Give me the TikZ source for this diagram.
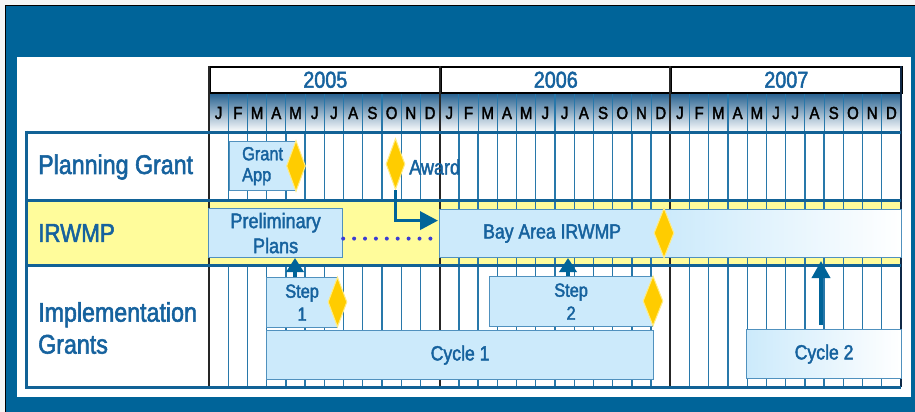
\documentclass[tikz,border=0pt]{standalone}
\usepackage{fontspec}
\setmainfont{Liberation Sans}[FakeStretch=0.86, FakeBold=2]
\usetikzlibrary{arrows.meta,shapes.geometric,calc}
\definecolor{frameblue}{RGB}{0,100,153}
\definecolor{rowline}{RGB}{18,98,150}
\definecolor{gridblue}{RGB}{40,120,170}
\definecolor{boxfill}{RGB}{204,234,251}
\definecolor{boxline}{RGB}{80,145,190}
\definecolor{txtblue}{RGB}{22,98,158}
\definecolor{band}{RGB}{255,252,155}
\definecolor{gold}{RGB}{255,204,0}
\definecolor{goldedge}{RGB}{255,236,130}
\definecolor{dotc}{RGB}{60,60,210}
\definecolor{hdrtop}{RGB}{32,92,140}
\definecolor{darkedge}{RGB}{15,40,70}
\newcommand{\fsz}[2]{\fontsize{#1}{#2}\selectfont}
\tikzset{
  box/.style={draw=boxline, fill=boxfill, line width=1.2pt, text=txtblue, inner sep=0pt, anchor=north west, align=center},
  gbox/.style={draw=boxline, left color=boxfill, right color=white, line width=1.2pt, text=txtblue, inner sep=0pt, anchor=north west, align=center},
  mile/.style={diamond, fill=gold, draw=goldedge, line width=1pt, inner sep=0pt, minimum width=19pt, minimum height=51pt},
  arr/.style={draw=frameblue, line width=3.6pt, -{Triangle[length=14pt,width=17pt]}},
  gridline/.style={draw=gridblue, line width=1.4pt},
  yearline/.style={draw=black!85, line width=1.3pt},
  rowrule/.style={draw=rowline, line width=3pt},
  lbl/.style={text=txtblue, anchor=west, inner sep=0pt, align=left},
}
\begin{document}
\begin{tikzpicture}[x=1pt,y=-1pt]
\useasboundingbox (0,0) rectangle (915,412);
% frame
\fill[white!92!gray] (0,0) rectangle (915,412);
\fill[frameblue] (5,5) rectangle (915,412);
\draw[black, line width=1.3pt] (5.5,412) -- (5.5,5.5) -- (915,5.5);
\fill[white] (17,57) rectangle (911,397);
% IRWMP band
\fill[band] (26,200) rectangle (901,265);
% month grid lines in chart
\foreach \i in {1,...,35}{
  \pgfmathtruncatemacro\m{mod(\i,12)}
  \ifnum\m=0\else
    \draw[gridline] ({209+\i*19.2222},132) -- ({209+\i*19.2222},200);
    \draw[gridline] ({209+\i*19.2222},265) -- ({209+\i*19.2222},387);
    \ifnum\i>12
      \draw[gridline] ({209+\i*19.2222},200) -- ({209+\i*19.2222},265);
    \fi
  \fi
}
% header month row
\shade[top color=hdrtop, bottom color=white] (209,92) rectangle (901,132);
\foreach \i in {1,...,35}{
  \draw[draw=gridblue, line width=1.2pt] ({209+\i*19.2222},92) -- ({209+\i*19.2222},132);
}
\foreach \l [count=\k from 0] in {J,F,M,A,M,J,J,A,S,O,N,D}{
  \foreach \y in {0,1,2}{
    \node[inner sep=0pt, font=\fsz{17.5}{17.5}] (m\y\k) at ({209+(\y*12+\k+0.5)*19.2222},113) {\l};
  }
}
% year boxes
\node[draw=black, line width=1.6pt, fill=white, minimum width=231pt, minimum height=26pt, anchor=north west, inner sep=0pt, text=txtblue, font=\fsz{23}{23}] (y5) at (209,66) {2005};
\node[draw=black, line width=1.6pt, fill=white, minimum width=230pt, minimum height=26pt, anchor=north west, inner sep=0pt, text=txtblue, font=\fsz{23}{23}] (y6) at (440,66) {2006};
\node[draw=black, line width=1.6pt, fill=white, minimum width=231pt, minimum height=26pt, anchor=north west, inner sep=0pt, text=txtblue, font=\fsz{23}{23}] (y7) at (670,66) {2007};
% year lines
\foreach \xx in {209,440,670}{
  \draw[yearline] (\xx,66) -- (\xx,387);
}
\draw[draw=darkedge, line width=1.8pt] (901,66) -- (901,387);
% row rules
\draw[rowrule] (26,132) -- (901,132);
\draw[rowrule] (26,200) -- (901,200);
\draw[rowrule] (26,265) -- (901,265);
\draw[rowrule] (26,387) -- (901,387);
\draw[rowrule] (26,130.5) -- (26,388.5);
% left labels
\node[lbl, font=\fsz{27}{27}] (pg) at (38,167) {Planning Grant};
\node[lbl, font=\fsz{26}{26}] (ir) at (38,233) {IRWMP};
\node[lbl, font=\fsz{27}{32}] (ig) at (38,328) {Implementation\\Grants};
% boxes
\node[box, minimum width=66pt, minimum height=49pt, font=\fsz{19}{21}, align=left] (ga) at (229,141) {Grant\\App};
\node[box, minimum width=134pt, minimum height=49pt, font=\fsz{21}{25}] (pp) at (208,208) {Preliminary\\Plans};
\node[box, minimum width=225pt, minimum height=48pt, font=\fsz{20.5}{24}] (bay) at (439,209) {Bay Area IRWMP};
\node[gbox, minimum width=237pt, minimum height=48pt] (bay2) at (664,209) {};
\node[box, minimum width=71pt, minimum height=50pt, font=\fsz{19}{23}] (s1) at (266,277) {Step\\1};
\node[box, minimum width=163pt, minimum height=50pt, font=\fsz{19}{23}] (s2) at (489,276) {Step\\2};
\node[box, minimum width=387pt, minimum height=49pt, font=\fsz{20.5}{24}] (c1) at (266,330) {Cycle 1};
\node[gbox, minimum width=155pt, minimum height=49pt, font=\fsz{20.5}{24}] (c2) at (746,329) {Cycle 2};
% milestones
\node[mile] (d1) at (296,166) {};
\node[mile] (d2) at (395.5,164) {};
\node[mile, minimum width=20pt, minimum height=50pt] (d3) at (664,233) {};
\node[mile, minimum height=50pt] (d4) at (337.5,302) {};
\node[mile, minimum width=20pt, minimum height=50pt] (d5) at (653,301) {};
\node[lbl, font=\fsz{21}{21}] (aw) at (409,167) {Award};
% connectors
\draw[dotc, line width=4pt, line cap=round, dash pattern=on 0pt off 10.9pt] ([yshift=-5.5pt]pp.east) -- ([yshift=-5pt]bay.west);
\draw[arr, -{Triangle[length=18pt,width=18pt]}] (d2.south) |- ([yshift=13pt, xshift=-1pt]bay.west);
\coordinate (t1) at (295,258);
\coordinate (t2) at (568,258);
\coordinate (t3) at (821,261);
\draw[arr] (t1 |- s1.north) -- (t1);
\draw[arr] (t2 |- s2.north) -- (t2);
\draw[arr, -{Triangle[length=17pt,width=18pt]}] ([yshift=4pt]t3 |- c2.north) -- (t3);
\end{tikzpicture}
\end{document}
